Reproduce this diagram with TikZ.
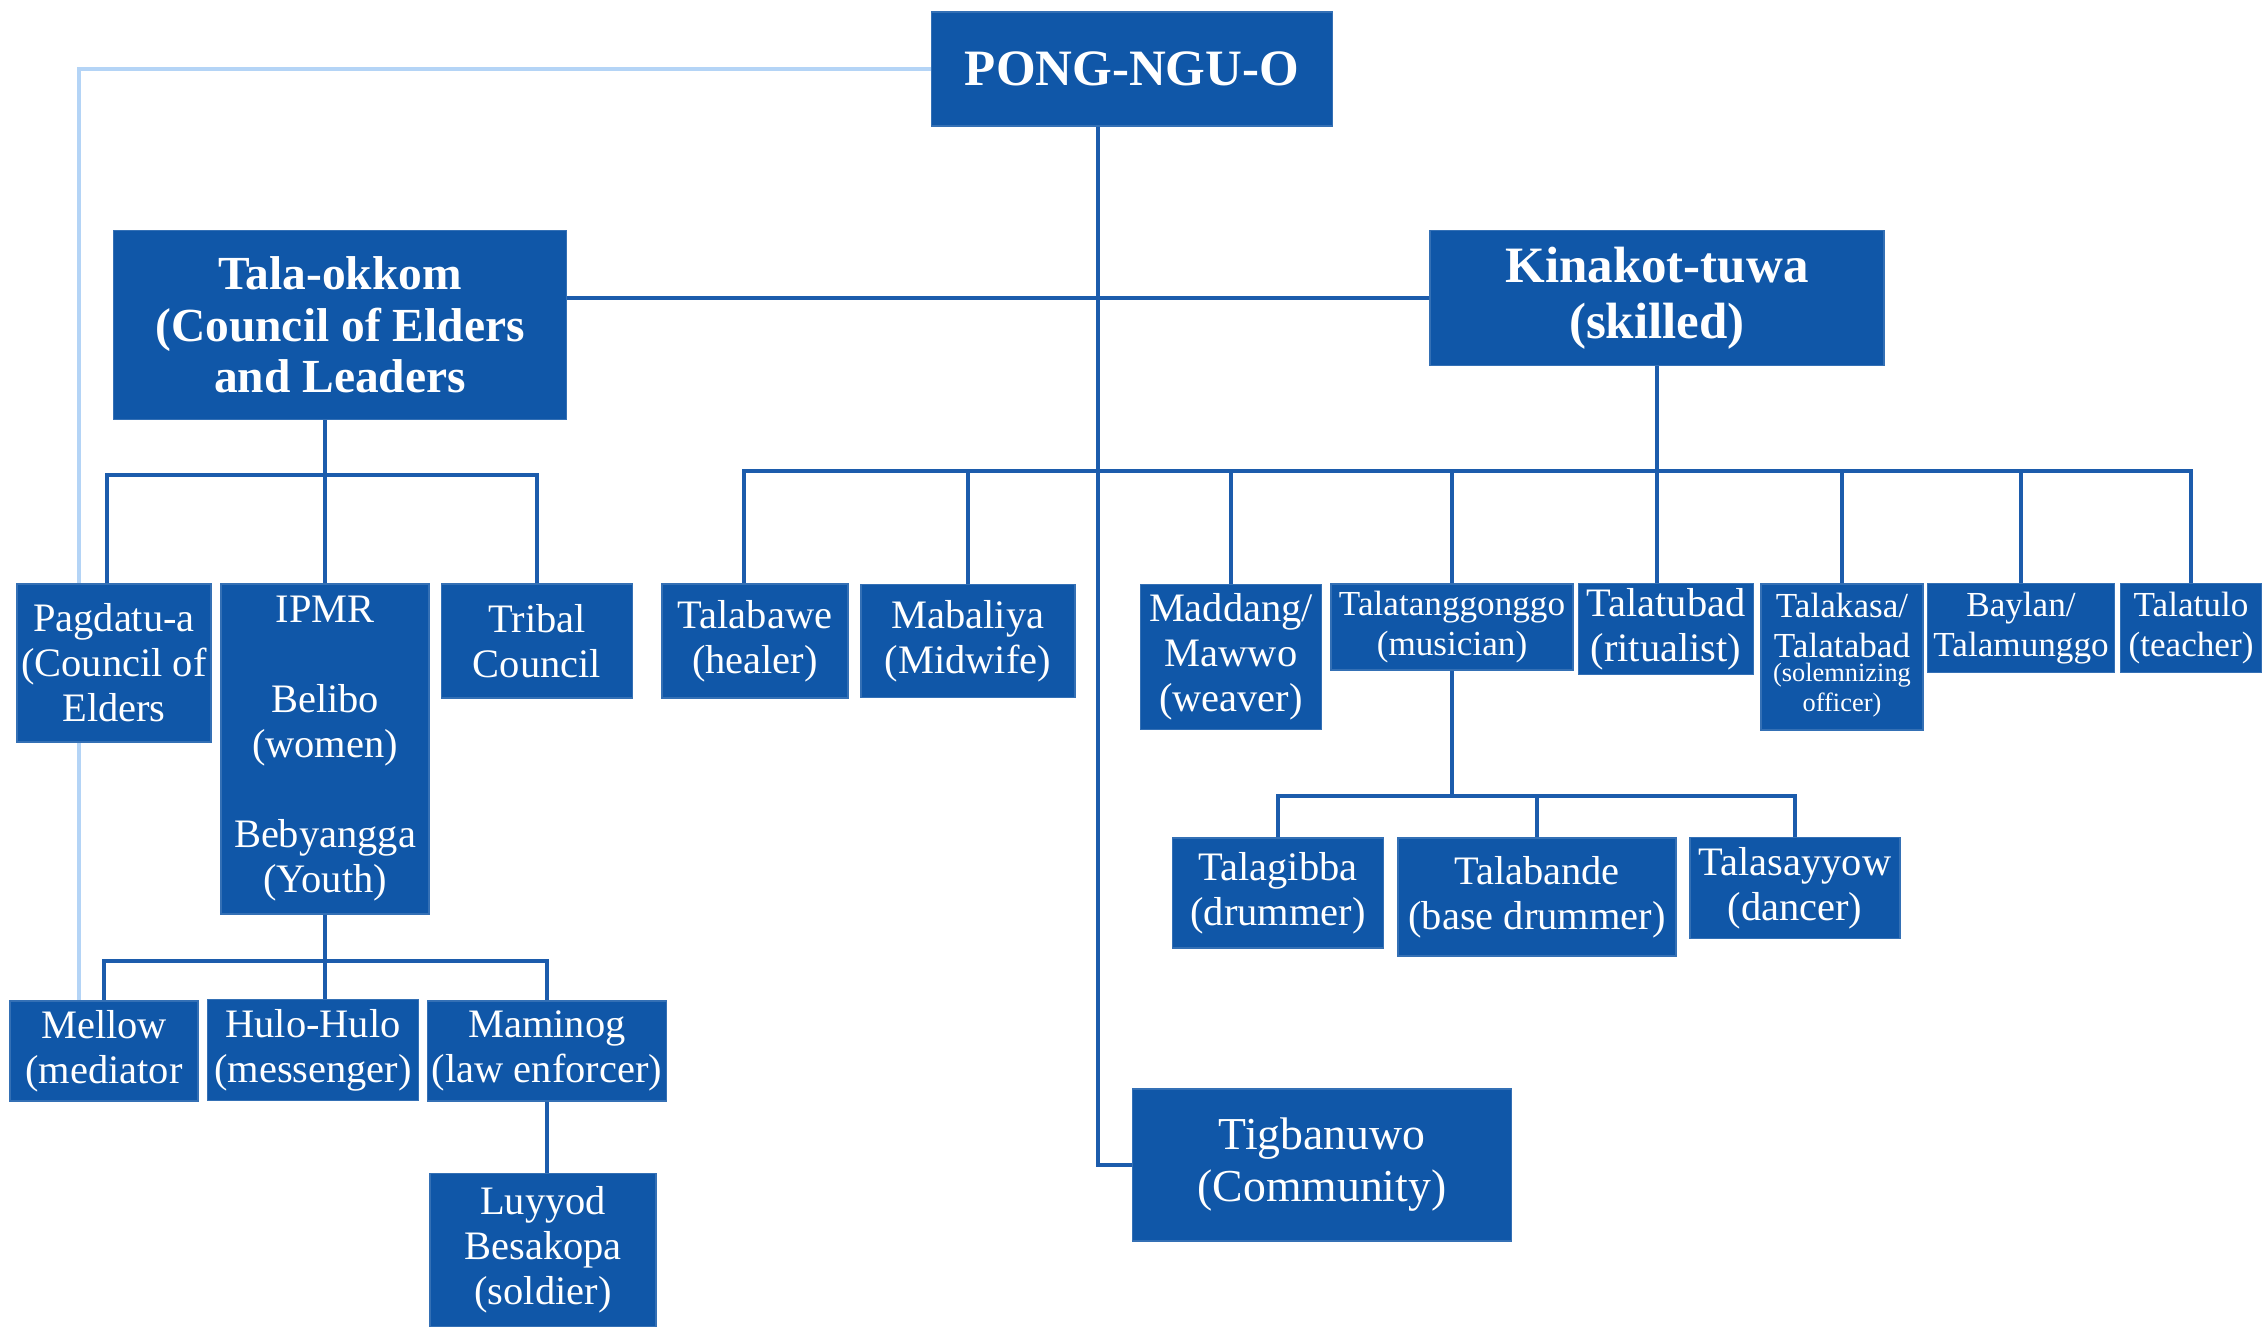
\documentclass[tikz,border=0pt]{standalone}
\usepackage{fontspec}
\setmainfont{Liberation Serif}
\usetikzlibrary{backgrounds}
\definecolor{boxblue}{RGB}{16,87,168}
\definecolor{lineblue}{RGB}{28,92,172}
\definecolor{paleblue}{RGB}{180,212,246}
\newcommand\smallnote[1]{{\fontsize{7.5}{8.6}\selectfont\begin{tabular}{@{}c@{}}#1\end{tabular}}}

\begin{document}
\begin{tikzpicture}[x=0.01cm,y=-0.01cm,
    unit/.style ={rectangle, fill=boxblue, draw=boxblue!85!white, text=white, align=center,
      inner sep=1pt, font=\fontsize{11.5}{12.8}\selectfont},
    narrow/.style ={unit, font=\fontsize{10}{11.2}\selectfont},
    head/.style ={unit, font=\fontsize{13.5}{14.6}\selectfont\bfseries},
    link/.style ={draw=lineblue, line width=0.9pt},
    pale/.style ={draw=paleblue, line width=1.3pt}]
   \useasboundingbox (0,0) rectangle (2265,1326);
   \node[head, font=\fontsize{14.5}{16}\selectfont\bfseries, minimum width=4.01cm, minimum height=1.14cm] (pong) at (1132,69) {PONG-NGU-O};
   \node[head, minimum width=4.53cm, minimum height=1.89cm] (tala) at (340,325) {Tala-okkom\\(Council of Elders\\and Leaders};
   \node[head, font=\fontsize{14.5}{16}\selectfont\bfseries, minimum width=4.54cm, minimum height=1.35cm] (kina) at (1657,298) {Kinakot-tuwa\\(skilled)};
   \node[unit, font=\fontsize{13}{14.8}\selectfont, minimum width=3.79cm, minimum height=1.52cm] (tig) at (1322,1165) {Tigbanuwo\\(Community)};

   \node[unit, minimum width=1.94cm, minimum height=1.58cm] (pag) at (114,663) {Pagdatu-a\\(Council of\\Elders};
   \node[unit, minimum width=2.08cm, minimum height=3.30cm] (ipmr) at (325,749) {IPMR\\[12.8pt]Belibo\\(women)\\[12.8pt]Bebyangga\\(Youth)};
   \node[unit, minimum width=1.91cm, minimum height=1.14cm] (tribal) at (537,641) {Tribal\\Council};

   \node[unit, minimum width=1.86cm, minimum height=1.14cm] (talabawe) at (755,641) {Talabawe\\(healer)};
   \node[unit, minimum width=2.14cm, minimum height=1.13cm] (mabaliya) at (968,641) {Mabaliya\\(Midwife)};
   \node[unit, minimum width=1.81cm, minimum height=1.45cm] (maddang) at (1231,657) {Maddang/\\Mawwo\\(weaver)};
   \node[narrow, minimum width=2.42cm, minimum height=0.86cm] (tanggong) at (1452,627) {Talatanggonggo\\(musician)};
   \node[unit, minimum width=1.75cm, minimum height=0.91cm] (tubad) at (1666,629) {Talatubad\\(ritualist)};
   \node[narrow, minimum width=1.62cm, minimum height=1.46cm] (talakasa) at (1842,657) {Talakasa/\\Talatabad\\\smallnote{(solemnizing\\officer)}};
   \node[narrow, minimum width=1.87cm, minimum height=0.89cm] (baylan) at (2021,628) {Baylan/\\Talamunggo};
   \node[narrow, minimum width=1.41cm, minimum height=0.89cm] (talatulo) at (2191,628) {Talatulo\\(teacher)};

   \node[unit, minimum width=2.11cm, minimum height=1.10cm] (talagibba) at (1278,893) {Talagibba\\(drummer)};
   \node[unit, minimum width=2.78cm, minimum height=1.18cm] (talabande) at (1537,897) {Talabande\\(base drummer)};
   \node[unit, minimum width=2.10cm, minimum height=1.01cm] (talasayyow) at (1795,888) {Talasayyow\\(dancer)};

   \node[unit, minimum width=1.88cm, minimum height=1.00cm] (mellow) at (104,1051) {Mellow\\(mediator};
   \node[unit, minimum width=2.11cm, minimum height=1.01cm] (hulo) at (313,1050) {Hulo-Hulo\\(messenger)};
   \node[unit, minimum width=2.39cm, minimum height=1.00cm] (maminog) at (547,1051) {Maminog\\(law enforcer)};
   \node[unit, minimum width=2.26cm, minimum height=1.53cm] (luyyod) at (543,1250) {Luyyod\\Besakopa\\(soldier)};

   \coordinate (bend) at (79,69);
   \coordinate (trunk) at (1098,0);
   \coordinate (elders) at (325,475);
   \coordinate (skills) at (1657,471);
   \coordinate (music) at (1452,796);
   \coordinate (roles) at (325,961);

   \begin{scope}[on background layer]
   \fill[white] (0,0) rectangle (2265,1326);
   \draw[pale] (pong.west) -- (bend) -- (bend |- mellow.north);
   \draw[link] (pong.south -| trunk) -- (trunk |- tig.west) -- (tig.west);
   \draw[link] (tala.east |- kina.west) -- (kina.west);
   \draw[link] (tala.south -| ipmr.north) -- (ipmr.north);
   \draw[link] ([xshift=-0.07cm]pag.north) |- (elders) -| (tribal.north);
   \draw[link] (kina.south) -- (kina.south |- tubad.north);
   \draw[link] ([xshift=-0.11cm]talabawe.north) |- (skills) -| (talatulo.north);
   \foreach \n in {mabaliya,maddang,tanggong,talakasa,baylan}
      \draw[link] (\n.north) -- (\n.north |- skills);
   \draw[link] (tanggong.south) -- (music);
   \draw[link] (talagibba.north) |- (music) -| (talasayyow.north);
   \draw[link] (talabande.north) -- (talabande.north |- music);
   \draw[link] (ipmr.south) -- (ipmr.south |- hulo.north);
   \draw[link] (mellow.north) |- (roles) -| (maminog.north);
   \draw[link] (maminog.south) -- (maminog.south |- luyyod.north);
   \end{scope}
 \end{tikzpicture}
\end{document}
